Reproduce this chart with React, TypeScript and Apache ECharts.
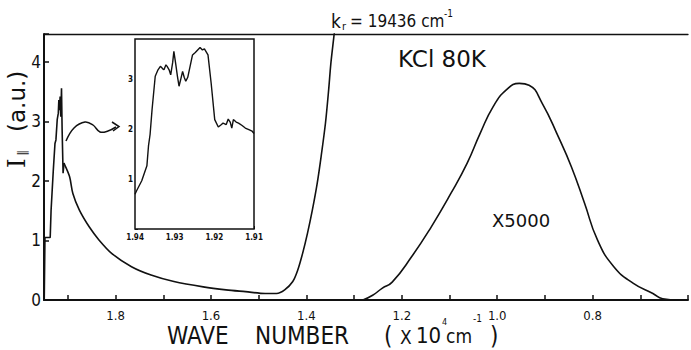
import React, { useEffect, useRef } from "react";
import * as echarts from "echarts";

// ---- data (wave number in 10^4 cm^-1, intensity in a.u.) ----
const peakWave = [1.9495, 1.948, 1.937, 1.9352, 1.9305, 1.927, 1.925, 1.9223, 1.92, 1.9189, 1.9174, 1.9162, 1.9148, 1.9133, 1.912, 1.91, 1.908, 1.9066];
const peakValue = [0, 1.05, 1.05, 1.5, 2.18, 2.63, 2.69, 3.03, 3.14, 3.36, 3.19, 3.42, 3.08, 3.56, 2.86, 2.13, 2.3, 2.27];

const tailWave = [1.9066, 1.8963, 1.8895, 1.8758, 1.8553, 1.8348, 1.8076, 1.7666, 1.7256, 1.6777, 1.6162, 1.5684, 1.5275, 1.4865, 1.4625, 1.4455, 1.4285, 1.4182, 1.408, 1.3977, 1.3875, 1.3773, 1.3691, 1.36, 1.3533, 1.3486, 1.3416, 1.335];
const tailValue = [2.27, 2.07, 1.79, 1.51, 1.23, 1.01, 0.78, 0.56, 0.42, 0.31, 0.22, 0.17, 0.14, 0.11, 0.11, 0.17, 0.31, 0.5, 0.78, 1.12, 1.51, 1.96, 2.41, 2.97, 3.53, 3.98, 4.48, 5.0];

const bandWave = [1.2816, 1.2611, 1.2406, 1.2201, 1.1791, 1.1381, 1.0971, 1.0629, 1.0357, 1.0084, 0.9809, 0.9537, 0.9332, 0.9059, 0.8717, 0.8445, 0.817, 0.7898, 0.7555, 0.7145, 0.6736, 0.6531, 0.62];
const bandValue = [0, 0.08, 0.2, 0.3, 0.73, 1.23, 1.79, 2.3, 2.8, 3.25, 3.53, 3.64, 3.61, 3.31, 2.74, 2.24, 1.63, 1.01, 0.56, 0.28, 0.11, 0.02, 0];

const insetWave = [1.94, 1.9396, 1.9383, 1.937, 1.9366, 1.9362, 1.9357, 1.9349, 1.9342, 1.9336, 1.933, 1.9327, 1.9322, 1.9319, 1.9314, 1.931, 1.9305, 1.9302, 1.9297, 1.9293, 1.9289, 1.9285, 1.928, 1.9276, 1.9272, 1.9267, 1.9263, 1.9255, 1.9248, 1.9242, 1.9236, 1.923, 1.9225, 1.9216, 1.9208, 1.9199, 1.919, 1.9182, 1.9178, 1.917, 1.9165, 1.916, 1.9156, 1.9152, 1.9145, 1.9139, 1.913, 1.9122, 1.9113, 1.9105, 1.91];
const insetValue = [0.7, 0.77, 0.97, 1.27, 1.67, 1.9, 2.4, 3.07, 3.2, 3.27, 3.22, 3.2, 3.3, 3.27, 3.2, 3.1, 3.35, 3.57, 3.3, 3.07, 2.87, 3.0, 3.17, 3.05, 2.97, 3.05, 3.2, 3.5, 3.55, 3.6, 3.65, 3.6, 3.62, 3.5, 2.93, 2.2, 2.05, 2.1, 2.13, 2.1, 2.21, 2.15, 2.03, 2.2, 2.15, 2.13, 2.08, 2.03, 2.0, 1.97, 1.92];

const xTickLabels = ["1.8", "1.6", "1.4", "1.2", "1.0", "0.8"];
const yTickLabels = ["0", "1", "2", "3", "4"];
const insetXTickLabels = ["1.94", "1.93", "1.92", "1.91"];
const insetYTickLabels = ["1", "2", "3"];

const zip = (a: number[], b: number[]) => a.map((v, i) => [v, b[i]]);

const COND = "'DejaVu Sans Condensed', 'Liberation Sans Narrow', 'DejaVu Sans', sans-serif";
const SANS = "'DejaVu Sans', sans-serif";
const INK = "#111";

const txt = (text: string, x: number, y: number, fontSize: number, fontFamily = COND, extra: any = {}) => ({
  type: "text",
  x,
  y,
  style: { text, fontSize, fontFamily, fill: INK, align: "left", verticalAlign: "middle", ...extra },
});

export default function App() {
  const ref = useRef<HTMLDivElement>(null);
  useEffect(() => {
    if (!ref.current) return;
    const chart = echarts.init(ref.current, undefined, { renderer: "svg" });
    const lineStyle = { color: INK, width: 1.6 };
    chart.setOption({
      animation: false,
      backgroundColor: "#fff",
      grid: [
        { left: 44, right: -12, top: 34, bottom: 50, show: false },
        { left: 135, right: 437, top: 39, bottom: 121, show: true, borderColor: INK, borderWidth: 1.5, backgroundColor: "#fff", z: 5 },
      ],
      xAxis: [
        {
          type: "value", gridIndex: 0, inverse: true, min: 0.6, max: 1.95, interval: 0.1,
          axisLine: { show: true, lineStyle: { color: INK, width: 2 } },
          axisTick: { show: true, inside: true, length: 5, lineStyle: { color: INK, width: 1.5 } },
          splitLine: { show: false },
          axisLabel: {
            margin: 9, fontSize: 13, fontFamily: COND, color: INK,
            formatter: (v: number) => { const s = v.toFixed(1); return xTickLabels.includes(s) ? s : ""; },
          },
        },
        {
          type: "value", gridIndex: 0, position: "top", inverse: true, min: 0.6, max: 1.95,
          axisLine: { show: true, onZero: false, lineStyle: { color: INK, width: 1.3 } },
          axisTick: { show: false }, axisLabel: { show: false }, splitLine: { show: false },
        },
        {
          type: "value", gridIndex: 1, inverse: true, min: 1.91, max: 1.94, interval: 0.01,
          axisLine: { show: false },
          axisTick: { show: true, inside: true, length: 3, lineStyle: { color: INK, width: 1 } },
          splitLine: { show: false },
          axisLabel: {
            margin: 4, fontSize: 8, fontWeight: "bold", fontFamily: COND, color: INK,
            formatter: (v: number) => { const s = v.toFixed(2); return insetXTickLabels.includes(s) ? s : ""; },
          },
        },
      ],
      yAxis: [
        {
          type: "value", gridIndex: 0, min: 0, max: 4.47, interval: 1,
          axisLine: { show: true, lineStyle: { color: INK, width: 2 } },
          axisTick: { show: true, inside: true, length: 5, lineStyle: { color: INK, width: 1.5 } },
          splitLine: { show: false },
          axisLabel: {
            margin: 3, fontSize: 17, fontFamily: COND, color: INK,
            formatter: (v: number) => { const s = String(v); return yTickLabels.includes(s) ? s : ""; },
          },
        },
        {
          type: "value", gridIndex: 1, min: 0, max: 3.82, interval: 1,
          axisLine: { show: false },
          axisTick: { show: true, inside: true, length: 3, lineStyle: { color: INK, width: 1 } },
          splitLine: { show: false },
          axisLabel: {
            margin: 2, fontSize: 8, fontWeight: "bold", fontFamily: COND, color: INK,
            formatter: (v: number) => { const s = String(v); return insetYTickLabels.includes(s) ? s : ""; },
          },
        },
      ],
      series: [
        { type: "line", xAxisIndex: 0, yAxisIndex: 0, data: zip(peakWave, peakValue), showSymbol: false, lineStyle, z: 3 },
        { type: "line", xAxisIndex: 0, yAxisIndex: 0, data: zip(tailWave, tailValue), showSymbol: false, smooth: 0.3, lineStyle, z: 3 },
        { type: "line", xAxisIndex: 0, yAxisIndex: 0, data: zip(bandWave, bandValue), showSymbol: false, smooth: 0.5, lineStyle, z: 3 },
        { type: "line", xAxisIndex: 2, yAxisIndex: 1, data: zip(insetWave, insetValue), showSymbol: false, lineStyle: { color: INK, width: 1.4 }, z: 6 },
      ],
      graphic: [
        // arrow from peak to inset
        { type: "polyline", shape: { points: [[66, 141], [74, 128], [85, 122], [93, 125], [100, 132], [108, 131], [116, 127]], smooth: 0.4 }, style: { stroke: INK, lineWidth: 1.5, fill: "none" } },
        { type: "polyline", shape: { points: [[112, 122], [119, 126.5], [113, 131]] }, style: { stroke: INK, lineWidth: 1.5, fill: "none" } },
        // texts
        txt("KCl 80K", 398, 59, 23, SANS),
        txt("X5000", 492, 220, 18, SANS),
        txt("k", 331, 21, 19),
        txt("r", 342, 26, 11),
        txt("= 19436 cm", 350, 21, 17),
        txt("-1", 444, 13, 10),
        txt("WAVE", 167, 336, 24),
        txt("NUMBER", 255, 336, 24),
        txt("(", 384, 336, 24),
        txt("X", 400, 337, 19),
        txt("10", 416, 335, 22),
        txt("4", 442, 322, 9),
        txt("cm", 446, 336, 19),
        txt("-1", 473, 318, 10),
        txt(")", 490, 336, 24),
        {
          type: "group", x: 17, y: 168, rotation: Math.PI / 2,
          children: [
            { type: "text", x: 0, y: 0, style: { text: "I", fontSize: 24, fontFamily: "'DejaVu Serif', serif", fill: INK, align: "left", verticalAlign: "middle" } },
            { type: "text", x: 12, y: 5, style: { text: "∥", fontSize: 12, fontFamily: SANS, fill: INK, align: "left", verticalAlign: "middle" } },
            { type: "text", x: 36, y: 0, style: { text: "(a.u.)", fontSize: 23, fontFamily: SANS, fill: INK, align: "left", verticalAlign: "middle" } },
          ],
        },
      ],
    });
    return () => chart.dispose();
  }, []);
  return (
    <div style={{ position: "absolute", left: 0, top: 0, width: 691, height: 350, overflow: "hidden", background: "#fff" }}>
      <div ref={ref} style={{ width: 691, height: 350 }} />
    </div>
  );
}
